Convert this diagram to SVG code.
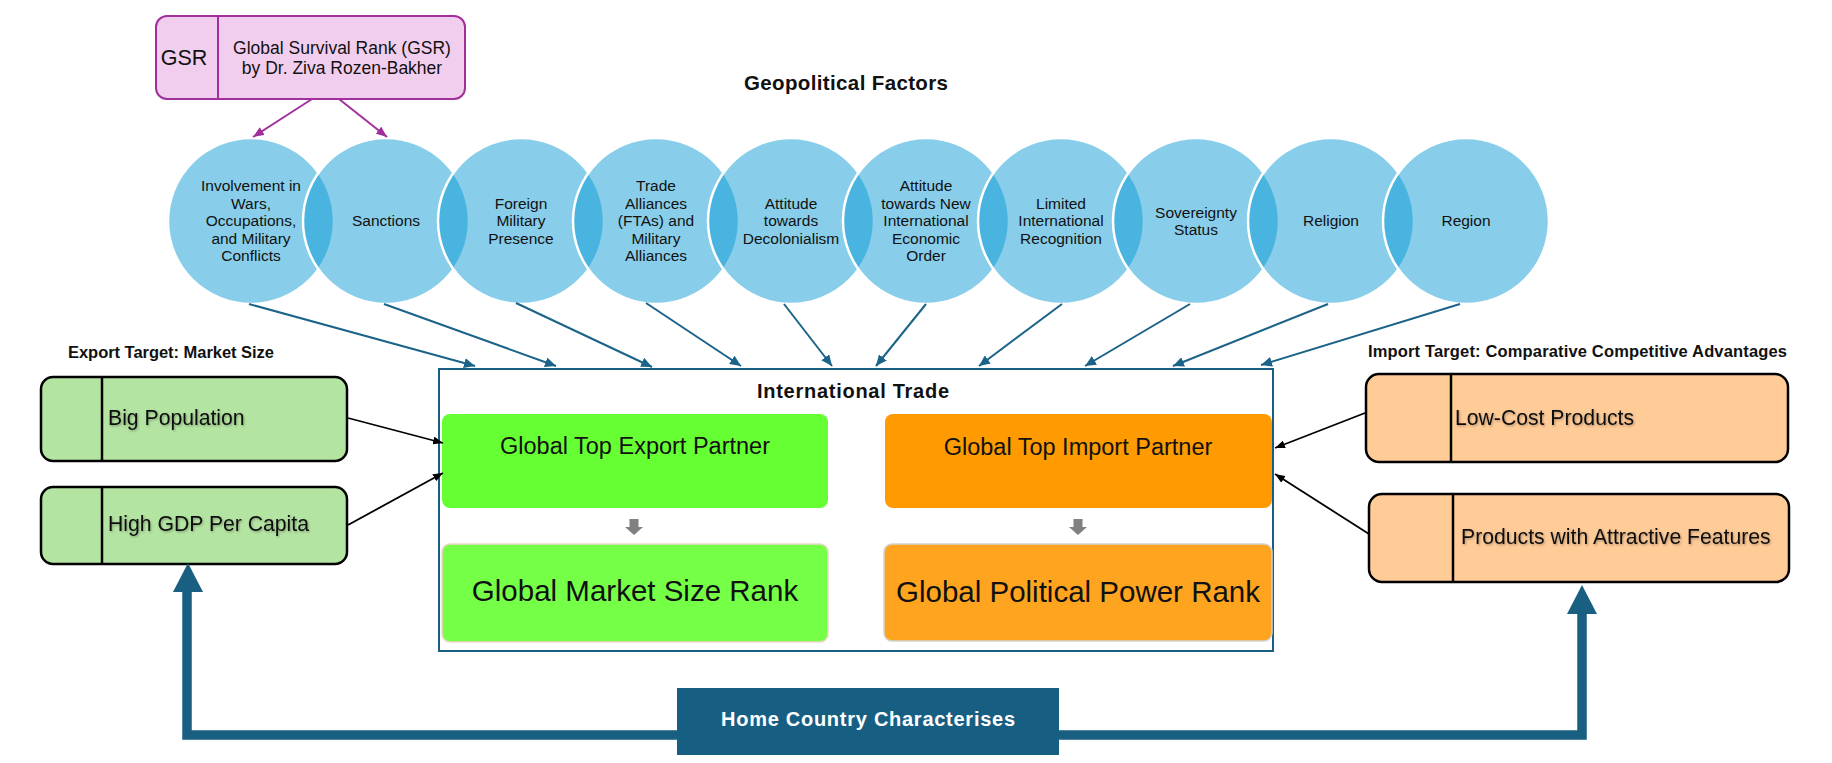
<svg xmlns="http://www.w3.org/2000/svg" width="1832" height="763" viewBox="0 0 1832 763">
<style>
.t{font-family:"Liberation Sans",Arial,sans-serif;fill:#111}
.c{font-size:15.5px;text-anchor:middle}
.b{font-weight:bold}
.circ{fill:#0297D2;fill-opacity:0.47;stroke:#ffffff;stroke-width:2.5}
.bl{stroke:#1B6388;stroke-width:2;fill:none;marker-end:url(#ab)}
.bk{stroke:#000;stroke-width:1.8;fill:none;marker-end:url(#ak)}
.pu{stroke:#A2309C;stroke-width:2;fill:none;marker-end:url(#ap)}
.lb{fill:#B4E4A2;stroke:#000;stroke-width:2.5}
.rb{fill:#FFCB97;stroke:#000;stroke-width:2.5}
.dv{stroke:#000;stroke-width:2.5}
.big{font-size:21.2px}
.thick{stroke:#185F82;stroke-width:9.5;fill:none}
.ga{fill:#808080}
</style>
<defs>
<marker id="ab" markerWidth="11" markerHeight="10" refX="11" refY="5" orient="auto" markerUnits="userSpaceOnUse"><path d="M0,0 L11,5 L0,10 z" fill="#1B6388"/></marker>
<marker id="ak" markerWidth="10" markerHeight="8" refX="10" refY="4" orient="auto" markerUnits="userSpaceOnUse"><path d="M0,0 L10,4 L0,8 z" fill="#000"/></marker>
<marker id="ap" markerWidth="11" markerHeight="9" refX="11" refY="4.5" orient="auto" markerUnits="userSpaceOnUse"><path d="M0,0 L11,4.5 L0,9 z" fill="#A2309C"/></marker>
<filter id="sh" x="-5%" y="-20%" width="110%" height="150%"><feDropShadow dx="1" dy="1.2" stdDeviation="0.8" flood-color="#000" flood-opacity="0.3"/></filter>
</defs>
<rect x="0" y="0" width="1832" height="763" fill="#fff"/>

<g id="gsr">
<rect x="156" y="16" width="309" height="83" rx="11" fill="#F2CEEE" stroke="#A2309C" stroke-width="2"/>
<line x1="218" y1="16" x2="218" y2="99" stroke="#A2309C" stroke-width="2"/>
<text class="t" x="184" y="65" font-size="21.5" text-anchor="middle">GSR</text>
<text class="t" x="342" y="54" font-size="17.5" text-anchor="middle">Global Survival Rank (GSR)</text>
<text class="t" x="342" y="74" font-size="17.5" text-anchor="middle">by Dr. Ziva Rozen-Bakher</text>
</g>

<g id="title-geo"><text class="t b" x="846" y="90" font-size="20.5" text-anchor="middle" textLength="204" lengthAdjust="spacing">Geopolitical Factors</text></g>

<g id="factors">
<g id="f1"><circle class="circ" cx="251" cy="221" r="83"/></g>
<g id="f2"><circle class="circ" cx="386" cy="221" r="83"/></g>
<g id="f3"><circle class="circ" cx="521" cy="221" r="83"/></g>
<g id="f4"><circle class="circ" cx="656" cy="221" r="83"/></g>
<g id="f5"><circle class="circ" cx="791" cy="221" r="83"/></g>
<g id="f6"><circle class="circ" cx="926" cy="221" r="83"/></g>
<g id="f7"><circle class="circ" cx="1061" cy="221" r="83"/></g>
<g id="f8"><circle class="circ" cx="1196" cy="221" r="83"/></g>
<g id="f9"><circle class="circ" cx="1331" cy="221" r="83"/></g>
<g id="f10"><circle class="circ" cx="1466" cy="221" r="83"/></g>
</g>
<g id="factor-labels" class="t c">
<text x="251" y="191.4">Involvement in</text>
<text x="251" y="208.9">Wars,</text>
<text x="251" y="226.4">Occupations,</text>
<text x="251" y="243.9">and Military</text>
<text x="251" y="261.4">Conflicts</text>
<text x="386" y="226.4">Sanctions</text>
<text x="521" y="208.9">Foreign</text>
<text x="521" y="226.4">Military</text>
<text x="521" y="243.9">Presence</text>
<text x="656" y="191.4">Trade</text>
<text x="656" y="208.9">Alliances</text>
<text x="656" y="226.4">(FTAs) and</text>
<text x="656" y="243.9">Military</text>
<text x="656" y="261.4">Alliances</text>
<text x="791" y="208.9">Attitude</text>
<text x="791" y="226.4">towards</text>
<text x="791" y="243.9">Decolonialism</text>
<text x="926" y="191.4">Attitude</text>
<text x="926" y="208.9">towards New</text>
<text x="926" y="226.4">International</text>
<text x="926" y="243.9">Economic</text>
<text x="926" y="261.4">Order</text>
<text x="1061" y="208.9">Limited</text>
<text x="1061" y="226.4">International</text>
<text x="1061" y="243.9">Recognition</text>
<text x="1196" y="217.7">Sovereignty</text>
<text x="1196" y="235.2">Status</text>
<text x="1331" y="226.4">Religion</text>
<text x="1466" y="226.4">Region</text>
</g>

<g id="intl-trade">
<rect x="439" y="369" width="834" height="282" fill="#fff" stroke="#1B5E84" stroke-width="2"/>
<text class="t b" x="853" y="398" font-size="20" text-anchor="middle" textLength="192" lengthAdjust="spacing">International Trade</text>
</g>
<g id="export-partner">
<rect x="442" y="414" width="386" height="94" rx="8" fill="#66FF33"/>
<text class="t" x="635" y="454" font-size="23.5" text-anchor="middle">Global Top Export Partner</text>
</g>
<g id="market-rank">
<rect x="442" y="544" width="386" height="98" rx="8" fill="#76FF47" stroke="#F0D6CC" stroke-width="1.5"/>
<text class="t" x="635" y="601" font-size="29.5" text-anchor="middle">Global Market Size Rank</text>
</g>
<g id="import-partner">
<rect x="885" y="414" width="387" height="94" rx="8" fill="#FF9A00"/>
<text class="t" x="1078" y="455" font-size="23.5" text-anchor="middle">Global Top Import Partner</text>
</g>
<g id="power-rank">
<rect x="884" y="544" width="388" height="97" rx="8" fill="#FFA41F" stroke="#D4D4D4" stroke-width="1.5"/>
<text class="t" x="1078" y="602" font-size="29.5" text-anchor="middle">Global Political Power Rank</text>
</g>

<g id="export-target-title"><text class="t b" x="68" y="358" font-size="16.5" textLength="206" lengthAdjust="spacing">Export Target: Market Size</text></g>
<g id="big-pop">
<rect class="lb" x="41" y="377" width="306" height="84" rx="12"/>
<line class="dv" x1="102" y1="377" x2="102" y2="461"/>
<text class="t big" x="108" y="425" filter="url(#sh)">Big Population</text>
</g>
<g id="high-gdp">
<rect class="lb" x="41" y="487" width="306" height="77" rx="12"/>
<line class="dv" x1="102" y1="487" x2="102" y2="564"/>
<text class="t big" x="108" y="531" filter="url(#sh)">High GDP Per Capita</text>
</g>

<g id="import-target-title"><text class="t b" x="1368" y="357" font-size="16.5" textLength="419" lengthAdjust="spacing">Import Target: Comparative Competitive Advantages</text></g>
<g id="low-cost">
<rect class="rb" x="1366" y="374" width="422" height="88" rx="13"/>
<line class="dv" x1="1451" y1="374" x2="1451" y2="462"/>
<text class="t big" x="1455" y="425" filter="url(#sh)">Low-Cost Products</text>
</g>
<g id="attractive">
<rect class="rb" x="1369" y="494" width="420" height="88" rx="13"/>
<line class="dv" x1="1453" y1="494" x2="1453" y2="582"/>
<text class="t big" x="1461" y="544" filter="url(#sh)">Products with Attractive Features</text>
</g>

<g id="home-country">
<rect x="677" y="688" width="382" height="67" fill="#175F82"/>
<text class="t b" x="868" y="726" font-size="20" text-anchor="middle" style="fill:#fff" textLength="294" lengthAdjust="spacing">Home Country Characterises</text>
</g>

<g id="connectors">
<line class="pu" x1="312" y1="99" x2="253" y2="137"/>
<line class="pu" x1="339" y1="99" x2="387" y2="137"/>
<line class="bl" x1="249" y1="304" x2="475" y2="366"/>
<line class="bl" x1="384" y1="304" x2="556" y2="366"/>
<line class="bl" x1="516" y1="303" x2="652" y2="367"/>
<line class="bl" x1="646" y1="303" x2="741" y2="366"/>
<line class="bl" x1="784" y1="304" x2="832" y2="366"/>
<line class="bl" x1="926" y1="304" x2="876" y2="366"/>
<line class="bl" x1="1062" y1="304" x2="979" y2="366"/>
<line class="bl" x1="1190" y1="304" x2="1085" y2="366"/>
<line class="bl" x1="1328" y1="304" x2="1173" y2="366"/>
<line class="bl" x1="1460" y1="304" x2="1261" y2="365"/>
<line class="bk" x1="348" y1="418" x2="443" y2="443"/>
<line class="bk" x1="348" y1="525" x2="443" y2="473"/>
<line class="bk" x1="1365" y1="413" x2="1275" y2="448"/>
<line class="bk" x1="1369" y1="534" x2="1275" y2="474"/>
<path class="ga" d="M629.5,519 H638.5 V527 H643 L634,535 L625,527 H629.5 Z"/>
<path class="ga" d="M1073.5,519 H1082.5 V527 H1087 L1078,535 L1069,527 H1073.5 Z"/>
<path class="thick" d="M677,735 H187 V588"/>
<polygon points="188,563 173,592 203,592" fill="#185F82"/>
<path class="thick" d="M1059,735 H1582 V610"/>
<polygon points="1582,585 1567,614 1597,614" fill="#185F82"/>
</g>
</svg>
